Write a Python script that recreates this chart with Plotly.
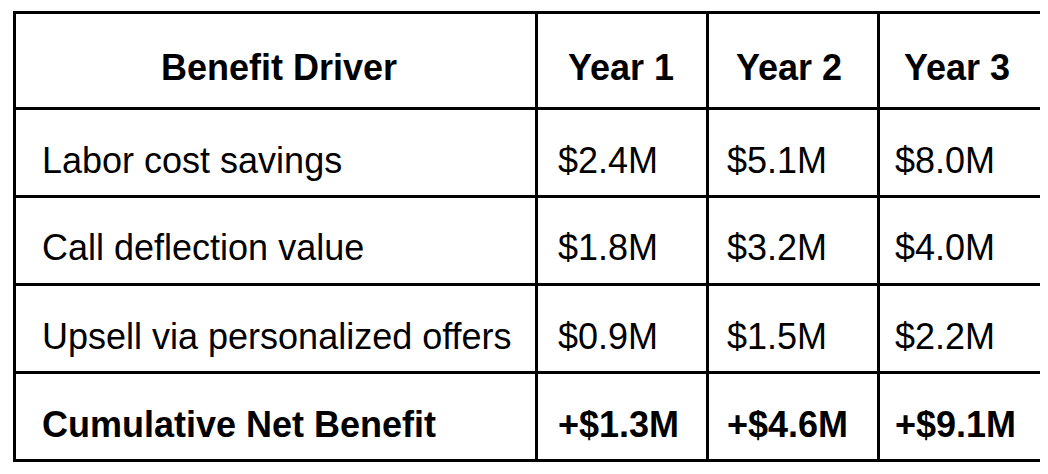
import plotly.graph_objects as go

headers = ["Benefit Driver", "Year 1", "Year 2", "Year 3"]
drivers = ["Labor cost savings", "Call deflection value", "Upsell via personalized offers", "<b>Cumulative Net Benefit</b>"]
year1 = ["$2.4M", "$1.8M", "$0.9M", "<b>+$1.3M</b>"]
year2 = ["$5.1M", "$3.2M", "$1.5M", "<b>+$4.6M</b>"]
year3 = ["$8.0M", "$4.0M", "$2.2M", "<b>+$9.1M</b>"]

colw = [514, 169, 168, 167]
header_h, cell_h = 96, 88
W, H = 1048, 474
ml, mr, mt, mb = 6, 8, 4, 0
tbl_left, tbl_top = 14, 12  # rendered table origin in px
FONT = "Liberation Sans, Arial"
FS = 36

columns = [drivers, year1, year2, year3]
fig = go.Figure(go.Table(
    columnwidth=colw,
    header=dict(values=[""] * 4, height=header_h,
                line=dict(color="black", width=3), fill_color="white"),
    cells=dict(values=[[""] * len(drivers)] * 4, height=cell_h,
               line=dict(color="black", width=3), fill_color="white"),
))

pw, ph = W - ml - mr, H - mt - mb
def fx(px): return (px - ml) / pw
def fy(py): return 1 - (py - mt) / ph

lefts = [tbl_left + sum(colw[:i]) for i in range(len(colw))]
for j, h in enumerate(headers):
    fig.add_annotation(x=fx(lefts[j] + colw[j] / 2), y=fy(tbl_top + header_h / 2),
                       xref="paper", yref="paper", text=f"<b>{h}</b>", showarrow=False,
                       xanchor="center", yanchor="middle",
                       font=dict(family=FONT, size=FS, color="black"))
for j, col in enumerate(columns):
    pad = 18 if j == 0 else 20
    for i, v in enumerate(col):
        fig.add_annotation(x=fx(lefts[j] + pad), y=fy(tbl_top + header_h + cell_h * i + cell_h / 2),
                           xref="paper", yref="paper", text=v, showarrow=False,
                           xanchor="left", yanchor="middle",
                           font=dict(family=FONT, size=FS, color="black"))

fig.update_layout(width=W, height=H, margin=dict(l=ml, r=mr, t=mt, b=mb),
                  paper_bgcolor="white")
fig.write_html("out.html")
